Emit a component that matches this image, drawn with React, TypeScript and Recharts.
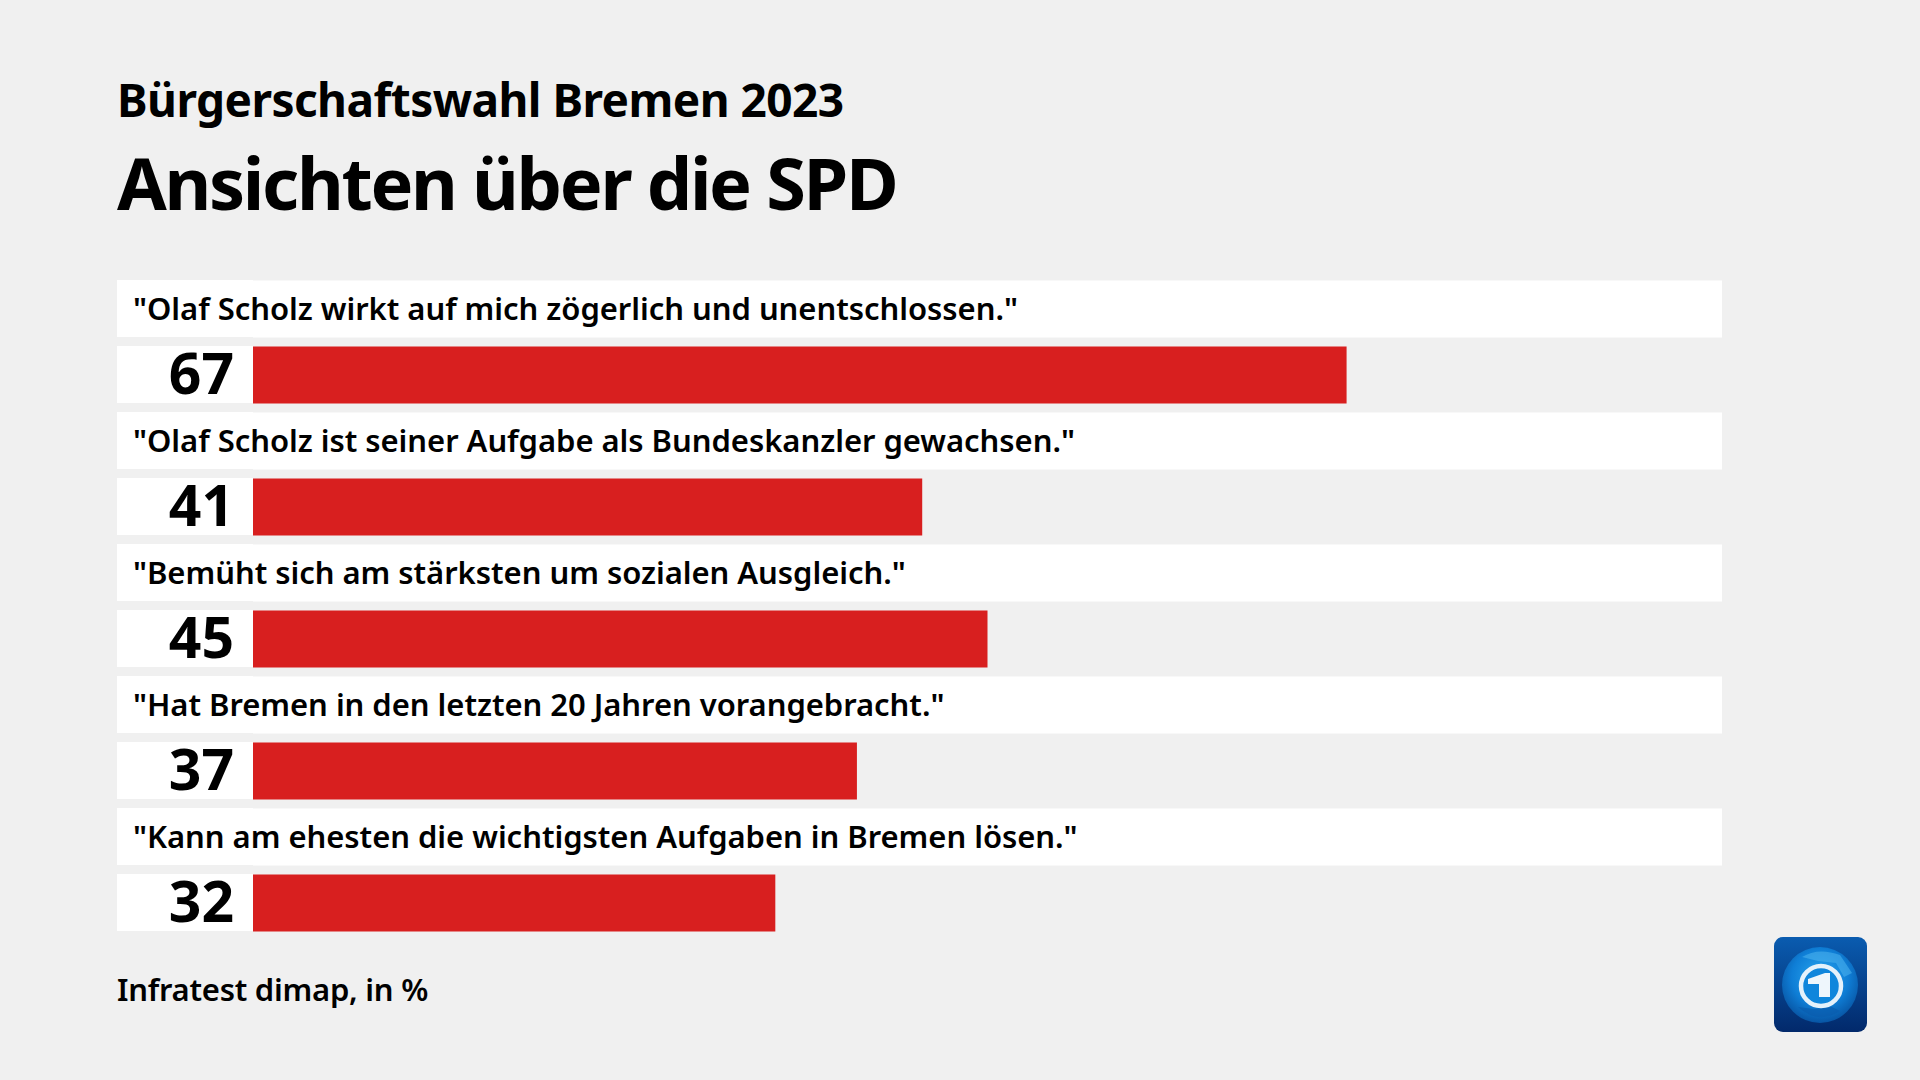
import React from "react";
import { BarChart, Bar, XAxis, YAxis, LabelList } from "recharts";

const statements = [
  '"Olaf Scholz wirkt auf mich zögerlich und unentschlossen."',
  '"Olaf Scholz ist seiner Aufgabe als Bundeskanzler gewachsen."',
  '"Bemüht sich am stärksten um sozialen Ausgleich."',
  '"Hat Bremen in den letzten 20 Jahren vorangebracht."',
  '"Kann am ehesten die wichtigsten Aufgaben in Bremen lösen."',
];
const values = [67, 41, 45, 37, 32];
const axisMax = 90;
const title = "Bürgerschaftswahl Bremen 2023";
const subtitle = "Ansichten über die SPD";
const source = "Infratest dimap, in %";

const FONT = '"Noto Sans", sans-serif';

const rows = statements.flatMap((s, i) => [
  { key: `s${i}`, text: s, band: axisMax, value: null as number | null },
  { key: `v${i}`, text: String(values[i]), band: null as number | null, value: values[i] },
]);

const LeftCell = (props: any) => {
  const { y, payload } = props;
  const isValue = payload.value.startsWith("v");
  const row = rows.find((r) => r.key === payload.value)!;
  return (
    <g>
      <rect x={117} y={y - 28.5} width={136} height={57} fill="#ffffff" />
      {isValue ? (
        <text x={234} y={y + 19.5} textAnchor="end" fontFamily={FONT} fontWeight={700} fontSize={57} fill="#000">
          {row.text}
        </text>
      ) : null}
    </g>
  );
};

const StatementLabel = (props: any) => {
  const { y, height, value } = props;
  return (
    <text x={133} y={y + height / 2 + 11} fontFamily={FONT} fontWeight={600} fontSize={31} letterSpacing={-0.04} fill="#000">
      {value}
    </text>
  );
};

const Logo = () => (
  <svg style={{ position: "absolute", left: 1774, top: 937 }} width={93} height={95} viewBox="0 0 93 95">
    <defs>
      <linearGradient id="tile" x1="0" y1="0" x2="0" y2="1">
        <stop offset="0" stopColor="#0a5cb0" />
        <stop offset="1" stopColor="#02296b" />
      </linearGradient>
      <radialGradient id="globe" cx="0.5" cy="0.4" r="0.62">
        <stop offset="0" stopColor="#2aa8f0" />
        <stop offset="0.6" stopColor="#0f7ed6" />
        <stop offset="1" stopColor="#07519f" />
      </radialGradient>
    </defs>
    <rect width={93} height={95} rx={9} fill="url(#tile)" />
    <circle cx={46} cy={48} r={38} fill="url(#globe)" />
    <path d="M28 20 Q44 10 66 18 L78 36 L70 40 L62 26 L44 24 Z" fill="#4fb4ef" opacity={0.55} />
    <path d="M24 70 Q44 88 66 74 L58 70 L40 72 Z" fill="#0a5cae" opacity={0.7} />
    <circle cx={47} cy={49} r={20} fill="#0f86dc" stroke="#e4f1fb" strokeWidth={4.5} />
    <path d="M34 42 L51 36 L56 36 L56 60 L45 60 L45 47 L34 47 Z" fill="#eef6fc" />
  </svg>
);

export default function App() {
  return (
    <div style={{ position: "absolute", left: 0, top: 0, width: 1920, height: 1080, background: "#f0f0f0", overflow: "hidden", fontFamily: FONT, color: "#000" }}>
      <div style={{ position: "absolute", left: 117, top: 67, fontSize: 46, fontWeight: 700, lineHeight: "64px", letterSpacing: -0.55, whiteSpace: "nowrap" }}>{title}</div>
      <div style={{ position: "absolute", left: 117, top: 132, fontSize: 72, fontWeight: 700, lineHeight: "100px", letterSpacing: -2.3, whiteSpace: "nowrap" }}>{subtitle}</div>
      <div style={{ position: "absolute", left: 0, top: 0 }}>
        <BarChart
          width={1920}
          height={1080}
          data={rows}
          layout="vertical"
          barCategoryGap={0}
          margin={{ top: 275.5, bottom: 144.5, left: 117, right: 198 }}
        >
          <XAxis type="number" hide domain={[0, axisMax]} />
          <YAxis type="category" dataKey="key" width={136} axisLine={false} tickLine={false} interval={0} tick={<LeftCell />} />
          <Bar dataKey="band" stackId="a" barSize={57} fill="#ffffff" isAnimationActive={false}>
            <LabelList dataKey="text" content={<StatementLabel />} />
          </Bar>
          <Bar dataKey="value" stackId="a" barSize={57} fill="#d81f1f" isAnimationActive={false} />
        </BarChart>
      </div>
      <div style={{ position: "absolute", left: 117, top: 966, fontSize: 31, fontWeight: 600, lineHeight: "46px", letterSpacing: -0.25, whiteSpace: "nowrap" }}>{source}</div>
      <Logo />
    </div>
  );
}
